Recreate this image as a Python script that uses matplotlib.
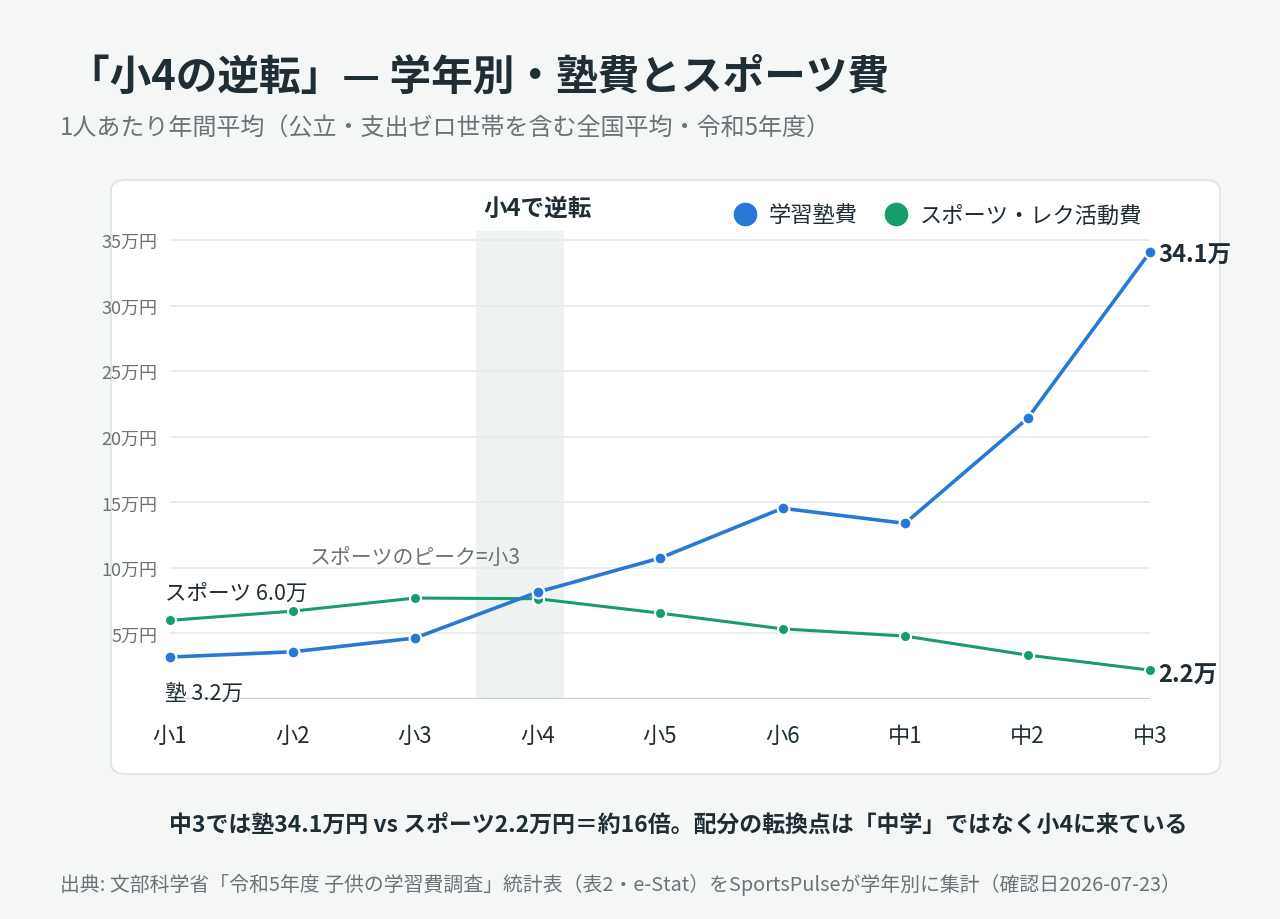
import numpy as np
import matplotlib.pyplot as plt
from matplotlib.patches import FancyBboxPatch
from matplotlib.lines import Line2D

plt.rcParams['font.family'] = ['Noto Sans CJK JP', 'DejaVu Sans']

# data (万円)
grades = ['小1', '小2', '小3', '小4', '小5', '小6', '中1', '中2', '中3']
juku = [3.2, 3.6, 4.65, 8.15, 10.75, 14.55, 13.4, 21.4, 34.1]
sports = [6.0, 6.7, 7.7, 7.65, 6.55, 5.35, 4.8, 3.35, 2.2]
yticks = [5, 10, 15, 20, 25, 30, 35]
ytick_labels = ['5万円', '10万円', '15万円', '20万円', '25万円', '30万円', '35万円']

BLUE = '#2a78d6'
GREEN = '#179c6c'
DARK = '#1f2d35'
GREY = '#6b7378'

fig = plt.figure(figsize=(12.8, 9.2), dpi=100)
fig.patch.set_facecolor('#f5f7f7')

# white card behind the chart
card = FancyBboxPatch((111 / 1280, (920 - 775) / 920), 1109 / 1280, 594 / 920,
                      boxstyle='round,pad=0,rounding_size=0.012',
                      transform=fig.transFigure, facecolor='white',
                      edgecolor='#dde3e3', linewidth=1.2, zorder=-5)
fig.patches.append(card)

ax = fig.add_axes([170 / 1280, (920 - 700) / 920, 980 / 1280, 468 / 920])
ax.set_zorder(2)
ax.set_facecolor('none')

x = np.arange(len(grades))
ax.axvspan(2.5, 3.22, color='#eef3f2', zorder=0, lw=0)

for y in yticks:
    ax.axhline(y, color='#e6eaea', lw=1.2, zorder=1)
ax.axhline(0, color='#c8d2d0', lw=1.6, zorder=1)

ax.plot(x, sports, color=GREEN, lw=2.2, marker='o', ms=8, mfc=GREEN,
        mec='white', mew=1.5, zorder=3, clip_on=False)
ax.plot(x, juku, color=BLUE, lw=2.6, marker='o', ms=8.5, mfc=BLUE,
        mec='white', mew=1.5, zorder=4, clip_on=False)

ax.set_xlim(0, 8)
ax.set_ylim(0, 35.7)
ax.set_xticks(x)
ax.set_xticklabels(grades, fontsize=16, color=DARK)
ax.set_yticks(yticks)
ax.set_yticklabels(ytick_labels, fontsize=13, color=GREY)
ax.tick_params(axis='both', length=0)
ax.tick_params(axis='x', pad=18)
ax.tick_params(axis='y', pad=9)
for s in ax.spines.values():
    s.set_visible(False)

# annotations
ax.text(-0.04, 8.1, 'スポーツ 6.0万', fontsize=15.5, color=DARK, ha='left', va='center')
ax.text(-0.04, 0.45, '塾 3.2万', fontsize=15.5, color=DARK, ha='left', va='center')
ax.text(2.0, 10.8, 'スポーツのピーク=小3', fontsize=15, color=GREY, ha='center', va='center')
ax.text(3.0, 37.5, '小4で逆転', fontsize=17, color=DARK, fontweight='bold',
        ha='center', va='center', clip_on=False)
ax.text(8.065, juku[-1] - 0.2, '34.1万', fontsize=17, color=DARK, fontweight='bold',
        ha='left', va='center', clip_on=False)
ax.text(8.065, sports[-1] - 0.35, '2.2万', fontsize=17, color=DARK, fontweight='bold',
        ha='left', va='center', clip_on=False)

handles = [Line2D([], [], ls='none', marker='o', ms=16, color=BLUE),
           Line2D([], [], ls='none', marker='o', ms=16, color=GREEN)]
fig.legend(handles, ['学習塾費', 'スポーツ・レク活動費'], loc='center right',
           bbox_to_anchor=(1162 / 1280, (920 - 216) / 920), ncol=2, frameon=False,
           fontsize=16, handletextpad=0.55, columnspacing=1.25, labelcolor=DARK,
           handlelength=1.0)

# titles and notes
fig.text(68 / 1280, (920 - 78) / 920, '「小4の逆転」— 学年別・塾費とスポーツ費',
         fontsize=30, fontweight='bold', color=DARK, ha='left', va='center')
fig.text(60 / 1280, (920 - 128) / 920, '1人あたり年間平均（公立・支出ゼロ世帯を含む全国平均・令和5年度）',
         fontsize=17.3, color=GREY, ha='left', va='center')
fig.text(678 / 1280, (920 - 825) / 920,
         '中3では塾34.1万円 vs スポーツ2.2万円＝約16倍。配分の転換点は「中学」ではなく小4に来ている',
         fontsize=16.5, fontweight='bold', color=DARK, ha='center', va='center')
fig.text(60 / 1280, (920 - 885) / 920,
         '出典: 文部科学省「令和5年度 子供の学習費調査」統計表（表2・e-Stat）をSportsPulseが学年別に集計（確認日2026-07-23）',
         fontsize=14.3, color=GREY, ha='left', va='center')

fig.savefig('out.png', dpi=100, facecolor=fig.get_facecolor())
